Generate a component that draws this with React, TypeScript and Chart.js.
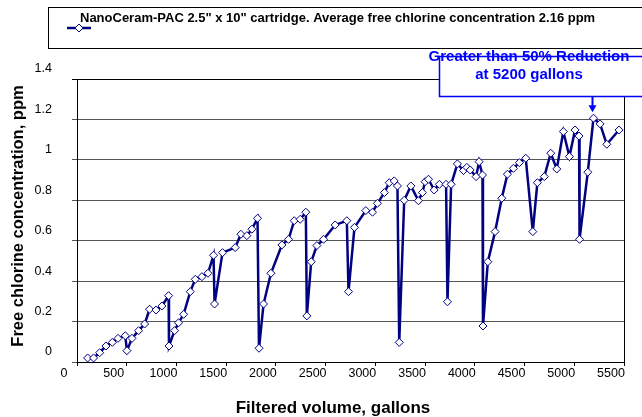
import { useEffect, useRef } from 'react';
import { Chart, registerables } from 'chart.js';

Chart.register(...registerables);

const gallons = [
  107, 167, 228, 291, 355, 412, 485, 502, 553, 619,
  680, 730, 794, 854, 921, 925, 981, 1021, 1072, 1139,
  1189, 1256, 1317, 1373, 1383, 1463, 1591, 1648, 1708, 1759,
  1815, 1830, 1876, 1950, 2060, 2127, 2184, 2244, 2301, 2311,
  2355, 2412, 2479, 2596, 2713, 2730, 2790, 2904, 2971, 3021,
  3091, 3139, 3189, 3222, 3240, 3290, 3357, 3433, 3473, 3500,
  3534, 3591, 3644, 3711, 3725, 3762, 3825, 3886, 3920, 3953,
  4013, 4043, 4077, 4082, 4131, 4204, 4271, 4328, 4388, 4448,
  4512, 4583, 4629, 4699, 4763, 4824, 4890, 4951, 5008, 5048,
  5053, 5136, 5193, 5259, 5327, 5450,
];

const chlorine = [
  0.02, 0.02, 0.046, 0.079, 0.097, 0.117, 0.13, 0.056, 0.117, 0.155,
  0.188, 0.261, 0.257, 0.277, 0.328, 0.079, 0.155, 0.194, 0.236, 0.348,
  0.409, 0.422, 0.439, 0.528, 0.287, 0.541, 0.566, 0.632, 0.625, 0.657,
  0.711, 0.068, 0.287, 0.439, 0.579, 0.607, 0.699, 0.706, 0.741, 0.228,
  0.496, 0.576, 0.607, 0.678, 0.699, 0.348, 0.666, 0.749, 0.741, 0.785,
  0.838, 0.887, 0.896, 0.871, 0.097, 0.8, 0.871, 0.798, 0.838, 0.892,
  0.904, 0.851, 0.879, 0.879, 0.298, 0.879, 0.98, 0.947, 0.963, 0.95,
  0.917, 0.991, 0.925, 0.178, 0.496, 0.645, 0.81, 0.929, 0.958, 0.986,
  1.008, 0.645, 0.887, 0.917, 1.033, 0.955, 1.14, 1.016, 1.148, 1.118,
  0.607, 0.939, 1.206, 1.178, 1.077, 1.148,
];

const xMin = 0;
const xMax = 5500;
const xStep = 500;
const yMin = 0;
const yMax = 1.4;
const yStep = 0.2;

const seriesLabel =
  'NanoCeram-PAC 2.5" x 10" cartridge. Average free chlorine concentration 2.16 ppm';
const xTitle = 'Filtered volume, gallons';
const yTitle = 'Free chlorine concentration, ppm';
const noteLines = ['Greater than 50% Reduction', 'at 5200 gallons'];
const noteGallons = 5193;
const noteValue = 1.206;

const FONT = "'Liberation Sans', Arial, sans-serif";
const NAVY = '#000080';
const BLUE = '#0000ff';

const decorPlugin = {
  id: 'decor',
  afterDraw(chart: any) {
    const ctx = chart.ctx;
    const area = chart.chartArea;
    const xs = chart.scales.x;
    const ys = chart.scales.y;
    ctx.save();

    // right border of plot
    ctx.strokeStyle = '#000';
    ctx.lineWidth = 1;
    ctx.beginPath();
    ctx.moveTo(Math.round(area.right) + 0.5, area.top);
    ctx.lineTo(Math.round(area.right) + 0.5, area.bottom);
    ctx.stroke();

    // axis titles
    ctx.fillStyle = '#000';
    ctx.font = `bold 17px ${FONT}`;
    ctx.textAlign = 'center';
    ctx.textBaseline = 'middle';
    ctx.fillText(xTitle, 333, 408);
    ctx.save();
    ctx.translate(18, 216);
    ctx.rotate(-Math.PI / 2);
    ctx.font = `bold 16.5px ${FONT}`;
    ctx.fillText(yTitle, 0, 0);
    ctx.restore();

    // legend box
    ctx.fillStyle = '#fff';
    ctx.fillRect(48, 7, 600, 41);
    ctx.strokeStyle = '#000';
    ctx.lineWidth = 1;
    ctx.strokeRect(48.5, 7.5, 600, 41);
    ctx.strokeStyle = NAVY;
    ctx.lineWidth = 2.5;
    ctx.beginPath();
    ctx.moveTo(67, 28);
    ctx.lineTo(91, 28);
    ctx.stroke();
    ctx.lineWidth = 1;
    ctx.fillStyle = '#fff';
    ctx.beginPath();
    ctx.moveTo(75, 28);
    ctx.lineTo(79, 24);
    ctx.lineTo(83, 28);
    ctx.lineTo(79, 32);
    ctx.closePath();
    ctx.fill();
    ctx.stroke();
    ctx.fillStyle = '#000';
    ctx.font = `bold 13px ${FONT}`;
    ctx.textAlign = 'left';
    ctx.textBaseline = 'middle';
    ctx.fillText(seriesLabel, 80, 18);

    // annotation box
    ctx.fillStyle = '#fff';
    ctx.fillRect(439, 56, 210, 41);
    ctx.strokeStyle = BLUE;
    ctx.lineWidth = 1.5;
    ctx.strokeRect(439.5, 56.5, 210, 40);
    ctx.fillStyle = BLUE;
    ctx.font = `bold 15px ${FONT}`;
    ctx.textAlign = 'center';
    ctx.fillText(noteLines[0], 529, 57);
    ctx.fillText(noteLines[1], 529, 75);

    // arrow
    const ax = Math.round(xs.getPixelForValue(noteGallons)) - 0.5;
    const tipY = ys.getPixelForValue(noteValue) - 6;
    ctx.strokeStyle = BLUE;
    ctx.lineWidth = 2;
    ctx.beginPath();
    ctx.moveTo(ax, 97);
    ctx.lineTo(ax, tipY - 6);
    ctx.stroke();
    ctx.beginPath();
    ctx.moveTo(ax - 4, tipY - 7);
    ctx.lineTo(ax + 4, tipY - 7);
    ctx.lineTo(ax, tipY);
    ctx.closePath();
    ctx.fill();

    ctx.restore();
  },
};

export default function App() {
  const ref = useRef<HTMLCanvasElement | null>(null);

  useEffect(() => {
    document.body.style.margin = '0';
    const canvas = ref.current;
    if (!canvas) return;
    const points = gallons.map((g, i) => ({ x: g, y: chlorine[i] }));
    const chart = new Chart(canvas, {
      type: 'line',
      data: {
        datasets: [
          {
            label: seriesLabel,
            data: points,
            borderColor: NAVY,
            borderWidth: 2.5,
            pointStyle: 'rectRot',
            pointRadius: 4,
            pointBackgroundColor: '#fff',
            pointBorderColor: NAVY,
            pointBorderWidth: 1,
            tension: 0,
          },
        ],
      },
      options: {
        animation: false,
        responsive: false,
        devicePixelRatio: 1,
        layout: { padding: { top: 79, right: 18, left: 0, bottom: 0 } },
        plugins: {
          legend: { display: false },
          tooltip: { enabled: false },
          title: { display: false },
        },
        scales: {
          x: {
            type: 'linear',
            min: xMin,
            max: xMax,
            afterFit: (s: any) => {
              s.height = 55;
            },
            border: { display: true, color: '#000', width: 1 },
            grid: {
              display: true,
              drawOnChartArea: false,
              drawTicks: true,
              tickLength: 4,
              color: '#000',
            },
            ticks: {
              stepSize: xStep,
              autoSkip: false,
              maxRotation: 0,
              padding: 0,
              labelOffset: -13,
              color: '#000',
              font: { family: FONT, size: 12.5 },
              callback: (v: any) => String(v),
            },
          },
          y: {
            type: 'linear',
            min: yMin,
            max: yMax,
            afterFit: (s: any) => {
              s.width = 77;
            },
            border: { display: true, color: '#000', width: 1 },
            grid: {
              display: true,
              drawTicks: true,
              tickLength: 5,
              color: (c: any) =>
                c.tick && Math.abs(c.tick.value - yMax) < 1e-6 ? '#000' : '#555',
            },
            ticks: {
              stepSize: yStep,
              padding: 20,
              labelOffset: -10,
              color: '#000',
              font: { family: FONT, size: 12.5 },
              callback: (v: any) => String(Number(Number(v).toFixed(1))),
            },
          },
        },
      },
      plugins: [decorPlugin],
    });
    return () => chart.destroy();
  }, []);

  return (
    <div style={{ width: 642, height: 417 }}>
      <canvas ref={ref} width={642} height={417} style={{ display: 'block' }} />
    </div>
  );
}
